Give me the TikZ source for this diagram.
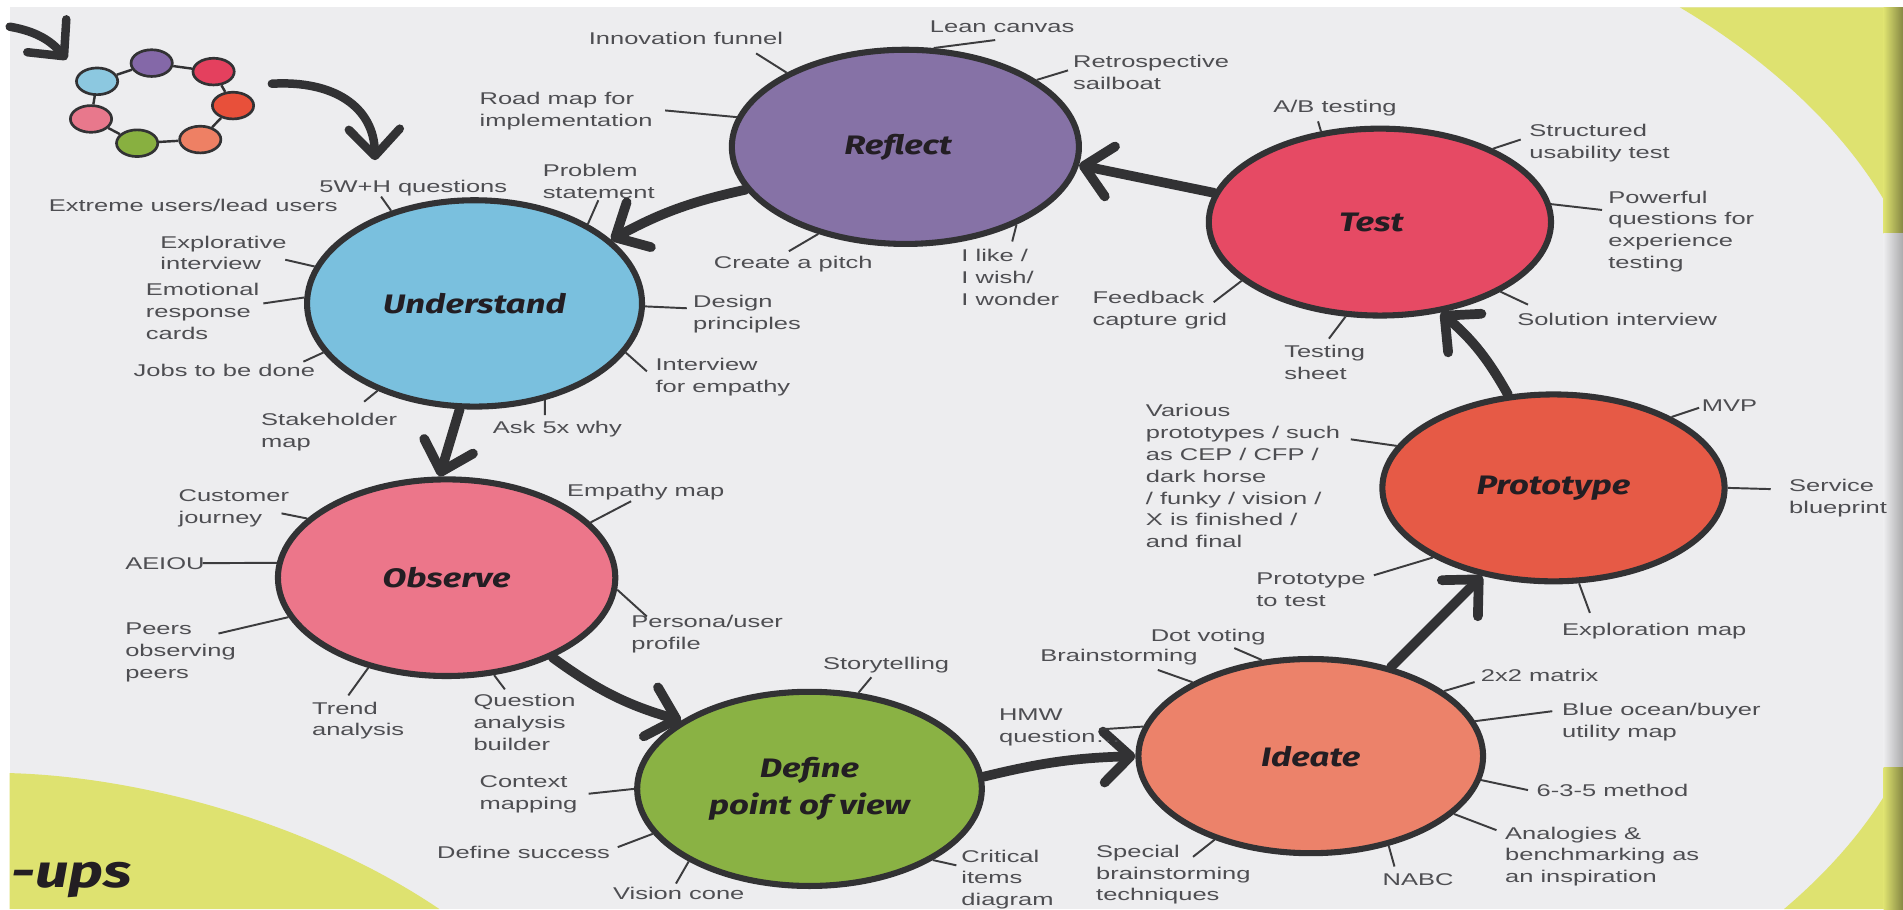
\documentclass[tikz,border=0pt]{standalone}
\usepackage{fontspec}
\usetikzlibrary{shapes.geometric,arrows.meta}
\newfontfamily\lblfamily{Liberation Sans}[FakeStretch=1.5]
\newfontfamily\ttlfamily{Fira Sans}[FakeStretch=1.3]
\definecolor{bgc}{RGB}{237,237,239}
\definecolor{yelc}{RGB}{222,226,112}
\definecolor{txtc}{RGB}{78,78,82}
\definecolor{tickc}{RGB}{60,60,62}
\definecolor{edgec}{RGB}{50,50,52}
\definecolor{ttlc}{RGB}{35,30,35}
\definecolor{ublue}{RGB}{122,192,222}
\definecolor{rpurple}{RGB}{134,114,166}
\definecolor{tred}{RGB}{230,74,100}
\definecolor{opink}{RGB}{236,118,138}
\definecolor{dgreen}{RGB}{138,178,68}
\definecolor{isalmon}{RGB}{236,130,106}
\definecolor{pred}{RGB}{230,90,70}
\definecolor{rlb}{RGB}{140,200,224}
\definecolor{rpu}{RGB}{132,104,168}
\definecolor{rcr}{RGB}{228,64,94}
\definecolor{rrd}{RGB}{232,80,58}
\definecolor{rsa}{RGB}{238,128,100}
\definecolor{rgr}{RGB}{136,176,64}
\definecolor{rpk}{RGB}{232,120,140}
\tikzset{
  lbl/.style={font=\lblfamily\fontsize{14}{18}\selectfont, text=txtc, align=left, inner sep=0pt, anchor=north west},
  phase/.style={ellipse, draw=edgec, line width=5pt, inner sep=0pt, align=center,
    font=\ttlfamily\bfseries\itshape\fontsize{22}{30}\selectfont, text=ttlc},
  tick/.style={draw=tickc, line width=1.6pt},
  flow/.style={draw=edgec, line width=8pt, line cap=round,
    -{Straight Barb[length=22pt,width=42pt,line cap=round,line join=round]}},
  ringc/.style={ellipse, draw=edgec, line width=2.2pt, minimum width=34pt, minimum height=22pt, inner sep=0pt},
  ringlink/.style={draw=edgec, line width=2pt},
}
\begin{document}
\begin{tikzpicture}[x=1pt,y=1pt]
\useasboundingbox (0,0) rectangle (1568,-749);
% background
\fill[white] (0,0) rectangle (1568,-749);
\fill[bgc] (8,-6) rectangle (1568,-749);
\fill[yelc] (1384,-6) .. controls (1450,-45) and (1530,-110) .. (1568,-195) -- (1568,-6) -- cycle;
\fill[yelc] (8,-637) .. controls (120,-640) and (260,-680) .. (362,-749) -- (8,-749) -- cycle;
\fill[yelc] (1470,-749) .. controls (1510,-715) and (1545,-675) .. (1568,-628) -- (1568,-749) -- cycle;
\shade[left color=yelc, right color=yelc!60!black] (1552,-6) rectangle (1568,-192);
\shade[left color=bgc, right color=bgc!72!black] (1552,-192) rectangle (1568,-632);
\shade[left color=yelc, right color=yelc!60!black] (1552,-632) rectangle (1568,-749);

% small ring
\node[ringc, fill=rlb] (r1) at (80,-67) {};
\node[ringc, fill=rpu] (r2) at (125,-52) {};
\node[ringc, fill=rcr] (r3) at (176,-59) {};
\node[ringc, fill=rrd] (r4) at (192,-87) {};
\node[ringc, fill=rsa] (r5) at (165,-115) {};
\node[ringc, fill=rgr] (r6) at (113,-118) {};
\node[ringc, fill=rpk] (r7) at (75,-98) {};
\draw[ringlink] (r1) -- (r2); \draw[ringlink] (r2) -- (r3); \draw[ringlink] (r3) -- (r4);
\draw[ringlink] (r4) -- (r5); \draw[ringlink] (r5) -- (r6); \draw[ringlink] (r6) -- (r7);
\draw[ringlink] (r7) -- (r1);

% free arrows at top left
\coordinate (a0s) at (8,-22);
\coordinate (a0e) at (55,-49);
\coordinate (a1s) at (224,-69);
\coordinate (a1e) at (309,-132);
\draw[flow, line width=7pt] (a0s) to[bend left=20] (a0e);
\draw[flow, line width=7pt] (a1s) .. controls (275,-66) and (308,-88) .. (a1e);

% phases
\node[phase, fill=ublue, minimum width=276pt, minimum height=170pt] (U) at (391,-250) {Understand};
\node[phase, fill=rpurple, minimum width=286pt, minimum height=160pt] (R) at (746,-121) {\hspace*{-12pt}Reflect};
\node[phase, fill=tred, minimum width=282pt, minimum height=154pt] (T) at (1137,-183) {\hspace*{-14pt}Test};
\node[phase, fill=opink, minimum width=278pt, minimum height=162pt] (O) at (368,-476) {\raisebox{-6pt}{Observe}};
\node[phase, fill=dgreen, minimum width=284pt, minimum height=160pt] (D) at (667,-650) {Define\\point of view};
\node[phase, fill=isalmon, minimum width=284pt, minimum height=160pt] (I) at (1080,-623) {Ideate};
\node[phase, fill=pred, minimum width=282pt, minimum height=154pt] (P) at (1280,-402) {\raisebox{-6pt}{Prototype}};

% flows
\draw[flow] (T.170) -- (R.354);
\draw[flow] (R.195) to[bend right=8] (U.25);
\draw[flow] (U.262) -- (O.94);
\draw[flow] (O.323) to[bend right=10] (D.152);
\draw[flow] (D.4) to[bend left=6] (I.180);
\draw[flow] (I.48) -- (P.231);
\draw[flow] (P.116) to[bend right=10] (T.304);

% labels: Understand
\node[lbl] (u1) at (263,-148) {5W+H questions};
\node[lbl] (u0) at (40,-164) {Extreme users/lead users};
\node[lbl] (u2) at (447,-135) {Problem\\statement};
\node[lbl] (u3) at (132,-194) {Explorative\\interview};
\node[lbl] (u4) at (120,-233) {Emotional\\response\\cards};
\node[lbl] (u5) at (110,-300) {Jobs to be done};
\node[lbl] (u6) at (215,-340) {Stakeholder\\map};
\node[lbl] (u7) at (406,-347) {Ask 5x why};
\node[lbl] (u8) at (571,-243) {Design\\principles};
\node[lbl] (u9) at (540,-295) {Interview\\for empathy};
% Reflect
\node[lbl] (r1l) at (485,-26) {Innovation funnel};
\node[lbl] (r2l) at (766,-17) {Lean canvas};
\node[lbl] (r3l) at (884,-45) {Retrospective\\sailboat};
\node[lbl] (r4l) at (395,-76) {Road map for\\implementation};
\node[lbl] (r5l) at (588,-211) {Create a pitch};
\node[lbl] (r6l) at (792,-205) {I like /\\I wish/\\I wonder};
% Test
\node[lbl] (t1) at (1049,-82) {A/B testing};
\node[lbl] (t2) at (1260,-102) {Structured\\usability test};
\node[lbl] (t3) at (1325,-157) {Powerful\\questions for\\experience\\testing};
\node[lbl] (t4) at (1250,-258) {Solution interview};
\node[lbl] (t5) at (1058,-284) {Testing\\sheet};
\node[lbl] (t6) at (900,-240) {Feedback\\capture grid};
% Prototype
\node[lbl] (p1) at (944,-333) {Various\\prototypes / such\\as CEP / CFP /\\dark horse\\/ funky / vision /\\X is finished /\\and final};
\node[lbl] (p2) at (1402,-329) {MVP};
\node[lbl] (p3) at (1474,-395) {Service\\blueprint};
\node[lbl] (p4) at (1287,-513) {Exploration map};
\node[lbl] (p5) at (1035,-472) {Prototype\\to test};
% Ideate
\node[lbl] (i1) at (948,-518) {Dot voting};
\node[lbl] (i2) at (857,-535) {Brainstorming};
\node[lbl] (i3) at (823,-584) {HMW\\question…};
\node[lbl] (i4) at (1220,-551) {2x2 matrix};
\node[lbl] (i5) at (1287,-579) {Blue ocean/buyer\\utility map};
\node[lbl] (i6) at (1266,-646) {6-3-5 method};
\node[lbl] (i7) at (1240,-681) {Analogies \&\\benchmarking as\\an inspiration};
\node[lbl] (i8) at (1139,-720) {NABC};
\node[lbl] (i9) at (903,-696) {Special\\brainstorming\\techniques};
% Observe
\node[lbl] (o1) at (147,-403) {Customer\\journey};
\node[lbl] (o2) at (467,-399) {Empathy map};
\node[lbl] (o3) at (103,-459) {AEIOU};
\node[lbl] (o4) at (520,-507) {Persona/user\\profile};
\node[lbl] (o5) at (103,-513) {Peers\\observing\\peers};
\node[lbl] (o6) at (257,-578) {Trend\\analysis};
\node[lbl] (o7) at (390,-572) {Question\\analysis\\builder};
% Define
\node[lbl] (d1) at (678,-541) {Storytelling};
\node[lbl] (d2) at (395,-639) {Context\\mapping};
\node[lbl] (d3) at (360,-697) {Define success};
\node[lbl] (d4) at (505,-731) {Vision cone};
\node[lbl] (d5) at (792,-700) {Critical\\items\\diagram};

% tick ends
\coordinate (eu1) at (314,-162); \coordinate (eu2) at (493,-165);
\coordinate (eu3) at (235,-214); \coordinate (eu4) at (217,-250);
\coordinate (eu5) at (250,-298); \coordinate (eu6) at (300,-331);
\coordinate (eu7) at (449,-342); \coordinate (eu8) at (566,-254);
\coordinate (eu9) at (533,-306);
\coordinate (er1) at (623,-44); \coordinate (er2) at (820,-33);
\coordinate (er3) at (880,-58); \coordinate (er4) at (548,-91);
\coordinate (er5) at (650,-207); \coordinate (er6) at (834,-199);
\coordinate (et1) at (1086,-100); \coordinate (et2) at (1253,-115);
\coordinate (et3) at (1320,-173); \coordinate (et4) at (1259,-251);
\coordinate (et5) at (1095,-279); \coordinate (et6) at (1000,-249);
\coordinate (ep1) at (1113,-362); \coordinate (ep2) at (1400,-336);
\coordinate (ep3) at (1459,-403); \coordinate (ep4) at (1310,-505);
\coordinate (ep5) at (1132,-474);
\coordinate (ei1) at (1017,-534); \coordinate (ei2) at (954,-552);
\coordinate (ei3) at (906,-601); \coordinate (ei4) at (1215,-562);
\coordinate (ei5) at (1279,-586); \coordinate (ei6) at (1259,-651);
\coordinate (ei7) at (1233,-684); \coordinate (ei8) at (1149,-714);
\coordinate (ei9) at (983,-706);
\coordinate (eo1) at (232,-423); \coordinate (eo2) at (520,-413);
\coordinate (eo3) at (167,-464); \coordinate (eo4) at (533,-508);
\coordinate (eo5) at (180,-522); \coordinate (eo6) at (287,-573);
\coordinate (eo7) at (416,-568);
\coordinate (ed1) at (718,-558); \coordinate (ed2) at (485,-654);
\coordinate (ed3) at (509,-698); \coordinate (ed4) at (557,-728);
\coordinate (ed5) at (788,-713);

% ticks
\draw[tick] (U.132.7) -- (eu1); \draw[tick] (U.35.5) -- (eu2);
\draw[tick] (U.167.8) -- (eu3); \draw[tick] (U.178.4) -- (eu4);
\draw[tick] (U.198) -- (eu5); \draw[tick] (U.222) -- (eu6);
\draw[tick] (U.306) -- (eu7); \draw[tick] (U.359.5) -- (eu8);
\draw[tick] (U.342.6) -- (eu9);
\draw[tick] (R.148.5) -- (er1); \draw[tick] (R.74.6) -- (er2);
\draw[tick] (R.27.2) -- (er3); \draw[tick] (R.170.3) -- (er4);
\draw[tick] (R.225.4) -- (er5); \draw[tick] (R.325.6) -- (er6);
\draw[tick] (T.123.3) -- (et1); \draw[tick] (T.33.7) -- (et2);
\draw[tick] (T.6.9) -- (et3); \draw[tick] (T.330.7) -- (et4);
\draw[tick] (T.250) -- (et5); \draw[tick] (T.203.6) -- (et6);
\draw[tick] (P.165.4) -- (ep1); \draw[tick] (P.31) -- (ep2);
\draw[tick] (P.0) -- (ep3); \draw[tick] (P.285) -- (ep4);
\draw[tick] (P.210) -- (ep5);
\draw[tick] (I.117.4) -- (ei1); \draw[tick] (I.148.8) -- (ei2);
\draw[tick] (I.170.7) -- (ei3); \draw[tick] (I.26) -- (ei4);
\draw[tick] (I.12.7) -- (ei5); \draw[tick] (I.352) -- (ei6);
\draw[tick] (I.338.6) -- (ei7); \draw[tick] (I.311.8) -- (ei8);
\draw[tick] (I.221.2) -- (ei9);
\draw[tick] (O.157.2) -- (eo1); \draw[tick] (O.21) -- (eo2);
\draw[tick] (O.175.2) -- (eo3); \draw[tick] (O.356) -- (eo4);
\draw[tick] (O.194.4) -- (eo5); \draw[tick] (O.229) -- (eo6);
\draw[tick] (O.296.3) -- (eo7);
\draw[tick] (D.63.4) -- (ed1); \draw[tick] (D.180) -- (ed2);
\draw[tick] (D.196.6) -- (ed3); \draw[tick] (D.211.9) -- (ed4);
\draw[tick] (D.330.6) -- (ed5);

% corner title fragment
\node[anchor=base west, inner sep=0pt, text=ttlc, font=\ttlfamily\bfseries\itshape\fontsize{38}{40}\selectfont] (ups) at (9,-731) {-ups};
\end{tikzpicture}
\end{document}
